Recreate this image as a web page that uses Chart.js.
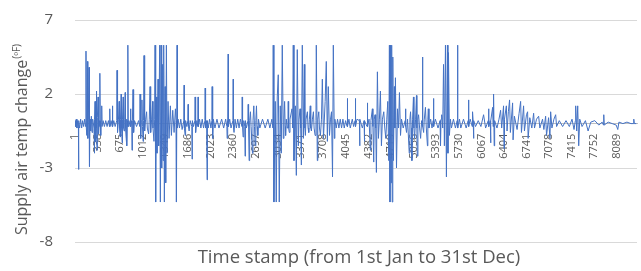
<!DOCTYPE html>
<html>
<head>
<meta charset="utf-8">
<script src="https://cdn.jsdelivr.net/npm/chart.js@4.4.1/dist/chart.umd.min.js"></script>
<style>
  html, body { margin: 0; padding: 0; background: #fff; }
  #wrap { width: 641px; height: 271px; }
</style>
</head>
<body>
<div id="wrap"><canvas id="airChart"></canvas></div>
<script>
// hourly time stamps (peaks, troughs and the flat parts between them)
const stampIdx = [
  1, 10, 20, 30, 40, 52, 55, 58, 70, 85,
  100, 115, 130, 145, 160, 165, 170, 175, 180, 185,
  190, 195, 200, 210, 214, 220, 225, 235, 245, 255,
  265, 285, 290, 295, 300, 305, 310, 315, 320, 325,
  330, 335, 345, 350, 355, 365, 370, 374, 378, 385,
  392, 400, 405, 420, 440, 460, 480, 500, 516, 520,
  524, 540, 556, 560, 564, 580, 600, 624, 628, 632,
  640, 650, 660, 665, 675, 680, 690, 695, 705, 710,
  720, 725, 735, 742, 750, 755, 765, 770, 777, 782,
  788, 792, 796, 805, 826, 830, 835, 848, 852, 858,
  867, 872, 880, 890, 920, 950, 968, 972, 978, 985,
  992, 1000, 1008, 1017, 1024, 1031, 1036, 1045, 1055, 1070,
  1080, 1100, 1110, 1121, 1126, 1135, 1145, 1160, 1165, 1180,
  1190, 1196, 1205, 1215, 1225, 1240, 1250, 1265, 1275, 1285,
  1295, 1305, 1315, 1325, 1335, 1345, 1355, 1365, 1375, 1390,
  1405, 1425, 1440, 1460, 1480, 1500, 1510, 1515, 1525, 1530,
  1540, 1560, 1580, 1600, 1626, 1630, 1634, 1645, 1652, 1670,
  1686, 1690, 1694, 1705, 1720, 1745, 1749, 1753, 1770, 1790,
  1794, 1798, 1805, 1820, 1835, 1839, 1843, 1860, 1880, 1900,
  1920, 1940, 1944, 1950, 1965, 1973, 1978, 1990, 2010, 2030,
  2044, 2048, 2052, 2060, 2066, 2090, 2120, 2150, 2190, 2220,
  2250, 2268, 2272, 2277, 2283, 2287, 2292, 2310, 2330, 2358,
  2362, 2367, 2375, 2390, 2410, 2430, 2450, 2470, 2493, 2497,
  2502, 2510, 2520, 2536, 2540, 2545, 2560, 2582, 2586, 2592,
  2600, 2608, 2620, 2630, 2650, 2658, 2670, 2680, 2690, 2700,
  2710, 2718, 2730, 2740, 2760, 2800, 2840, 2880, 2910, 2940,
  2955, 2960, 2970, 2990, 3005, 3020, 3035, 3050, 3065, 3080,
  3095, 3110, 3120, 3130, 3138, 3145, 3155, 3170, 3180, 3184,
  3190, 3200, 3210, 3240, 3250, 3259, 3270, 3290, 3305, 3319,
  3335, 3345, 3360, 3370, 3380, 3394, 3410, 3424, 3432, 3440,
  3450, 3470, 3480, 3490, 3500, 3513, 3520, 3530, 3545, 3560,
  3570, 3585, 3598, 3603, 3618, 3625, 3640, 3650, 3665, 3680,
  3693, 3710, 3735, 3752, 3768, 3782, 3800, 3815, 3830, 3845,
  3857, 3872, 3880, 3900, 3920, 3940, 3960, 3980, 4000, 4020,
  4040, 4062, 4066, 4071, 4090, 4110, 4140, 4160, 4182, 4186,
  4191, 4210, 4246, 4250, 4255, 4290, 4316, 4320, 4325, 4360,
  4365, 4370, 4390, 4410, 4418, 4440, 4448, 4460, 4468, 4480,
  4490, 4500, 4515, 4530, 4545, 4560, 4575, 4590, 4610, 4625,
  4640, 4655, 4670, 4685, 4694, 4703, 4712, 4720, 4728, 4736,
  4745, 4754, 4768, 4776, 4784, 4800, 4815, 4830, 4844, 4860,
  4875, 4900, 4930, 4934, 4940, 4950, 4965, 4990, 5000, 5010,
  5020, 5030, 5040, 5053, 5060, 5070, 5085, 5098, 5104, 5110,
  5120, 5130, 5145, 5160, 5175, 5184, 5188, 5193, 5205, 5215,
  5232, 5245, 5262, 5268, 5275, 5285, 5310, 5330, 5348, 5352,
  5357, 5380, 5420, 5450, 5457, 5465, 5475, 5490, 5502, 5515,
  5531, 5545, 5560, 5568, 5576, 5590, 5605, 5620, 5650, 5680,
  5706, 5711, 5716, 5740, 5760, 5800, 5840, 5870, 5875, 5880,
  5900, 5930, 5935, 5945, 5950, 5955, 5980, 6020, 6060, 6100,
  6130, 6170, 6174, 6180, 6200, 6204, 6210, 6235, 6242, 6249,
  6258, 6265, 6300, 6330, 6354, 6370, 6398, 6405, 6412, 6440,
  6450, 6470, 6488, 6500, 6533, 6540, 6560, 6600, 6630, 6653,
  6665, 6697, 6710, 6740, 6757, 6765, 6790, 6820, 6847, 6860,
  6890, 6922, 6940, 6980, 7000, 7026, 7040, 7070, 7090, 7101,
  7120, 7150, 7176, 7190, 7230, 7280, 7330, 7380, 7420, 7450,
  7470, 7475, 7490, 7505, 7520, 7535, 7570, 7620, 7660, 7700,
  7760, 7820, 7870, 7890, 7894, 7900, 7960, 8020, 8080, 8103,
  8120, 8180, 8240, 8300, 8340, 8342, 8350, 8380
];

// supply air temp change (oF), same order as stampIdx
const tempChange = [
  0.2, -0.2, 0.3, -0.3, 0.2, -0.2, -3.1, 0.2, -0.3, 0.3,
  -0.3, 0.2, -0.2, 0.3, -0.2, 4.9, -0.3, -0.8, 0.2, 4.2,
  -0.3, -1.0, 0.3, 3.8, -0.3, -2.9, 0.3, -0.5, 0.5, -0.6,
  0.3, -0.3, -2.0, 0.3, 1.5, -0.4, -1.2, 0.4, 2.2, -0.3,
  -1.8, 0.4, 1.8, -0.3, -0.7, 0.2, -0.2, 3.4, 0.2, -0.8,
  0.2, 1.2, -0.2, 0.2, -0.2, 0.2, -0.2, 0.2, -0.2, 1.0,
  -0.2, 0.2, -0.2, 1.2, -0.2, 0.2, -0.2, 0.2, 3.6, -0.3,
  -0.6, 0.3, 1.5, -0.3, -0.9, 0.3, 2.0, -0.3, -1.3, 0.3,
  1.8, -0.3, -0.5, 0.3, 2.1, -0.3, -1.0, 0.3, -1.5, 0.2,
  -0.2, 5.3, -0.2, 0.2, -0.2, 1.0, -0.2, 0.2, -1.8, 0.2,
  2.3, -0.3, -0.6, 0.2, -0.2, 0.2, -0.2, 2.0, -0.2, -1.0,
  0.2, 1.6, -0.2, -1.2, 0.2, 4.6, -0.3, -0.5, 0.3, 0.8,
  -0.3, -0.7, 0.3, 2.5, -0.3, -0.6, 0.3, 1.5, -0.3, -1.2,
  0.3, 5.3, -5.3, 1.8, -2.0, 3.0, -1.5, 5.3, -5.3, 5.3,
  -3.0, 4.0, -2.5, 5.3, -5.3, 2.5, -4.0, 5.3, -2.0, 1.5,
  -1.0, 1.2, -0.8, 0.9, -0.6, 1.0, 0.2, -5.3, 5.3, -0.3,
  0.3, -0.3, 0.3, -0.4, 0.2, 2.6, -0.3, -0.8, 0.2, -0.2,
  0.2, 1.3, -0.2, -0.5, 0.2, -0.2, -2.4, 0.2, -0.2, 0.2,
  1.8, -0.2, -0.6, 0.2, -0.2, 1.8, -0.2, 0.3, -0.3, 0.3,
  -0.3, 0.2, 2.4, -0.3, 0.2, -3.8, 0.2, -0.3, 0.3, -0.3,
  0.2, 2.5, -0.3, -1.0, 0.3, -0.3, 0.3, -0.3, 0.3, -0.3,
  0.3, -0.2, -1.0, 0.2, -0.2, 4.7, -0.2, 0.3, -0.3, 0.2,
  3.0, -0.3, -0.6, 0.3, -0.3, 0.3, -0.3, 0.3, -0.2, 1.8,
  -0.2, -0.9, 0.2, -0.2, -2.2, 0.2, -0.3, 0.2, 1.3, -0.2,
  -2.5, 0.2, 0.8, -0.2, -2.0, 0.2, 1.2, -0.2, -1.5, 0.2,
  1.2, -0.2, -0.8, 0.3, -0.3, 0.3, -0.3, 0.3, -0.3, 0.3,
  -0.3, 5.3, -5.3, 1.5, -5.3, 1.8, 3.3, -5.3, 1.2, -2.0,
  5.3, -1.0, 0.3, 1.5, -0.2, -0.8, 0.3, -0.3, 0.2, 1.5,
  -0.3, -0.6, 0.3, 1.0, -0.3, 5.3, -2.5, 1.2, -3.5, 5.0,
  -1.5, 0.3, 1.0, -0.3, -2.8, 5.3, -1.0, 4.0, -0.3, -0.8,
  0.3, 0.8, -0.3, -0.6, 0.3, 1.2, -0.3, -0.5, 0.3, 0.8,
  -0.3, -0.8, 0.2, 5.3, -2.5, 0.3, 0.8, -0.3, -0.8, 0.3,
  3.0, -1.0, 1.5, 4.2, -1.2, 2.5, -0.8, 0.3, 0.8, -3.6,
  5.3, -1.0, 0.3, -0.3, 0.3, -0.3, 0.3, -0.3, 0.3, -0.3,
  0.2, -0.2, 1.7, -0.2, 0.3, -0.3, 0.3, -0.2, 0.2, 1.7,
  -0.2, 0.3, 0.2, -1.5, 0.3, -0.3, 0.2, -1.2, 0.2, -0.2,
  1.4, -0.2, 0.3, -1.8, 0.2, 1.0, -0.2, -2.6, 0.3, 0.6,
  -0.3, -3.3, 3.5, -1.0, 0.3, 2.2, -1.5, 0.3, 0.8, -0.3,
  -1.0, 0.3, 1.5, -2.5, 5.3, -5.3, 5.3, -4.0, 5.3, -5.3,
  4.5, -2.5, 2.5, -0.3, 3.1, -3.0, 1.0, -0.3, 2.1, -0.8,
  0.3, -0.3, 0.2, 1.0, -0.2, -0.6, 0.3, -2.0, 0.3, 0.8,
  -0.3, -2.5, 0.3, 1.8, -0.3, -1.0, 0.3, 1.9, -0.3, -2.2,
  0.3, 0.6, -0.3, -1.0, 0.2, -0.2, 4.5, -0.2, -0.6, 0.3,
  1.1, -0.3, -1.5, 0.3, 1.0, -0.3, 0.3, -0.3, 0.2, 1.7,
  -0.2, 0.3, -0.3, 0.2, -1.5, 0.3, 0.6, -0.3, 4.0, -1.5,
  5.3, -3.6, 5.3, -2.0, 4.8, -0.8, 0.3, -0.3, 0.3, -0.3,
  0.2, 5.3, -0.3, 0.3, -0.3, 0.3, -0.3, 0.2, 1.6, -0.2,
  0.3, -0.2, 0.8, 0.1, -1.0, 0.2, -0.2, 0.2, -0.2, 0.6,
  -0.3, 0.2, 1.0, -0.2, 0.2, -1.3, 0.2, 1.1, -0.2, 2.0,
  -1.5, 0.2, -0.3, 0.3, 0.9, -0.3, 1.2, -1.7, 0.3, 1.2,
  -0.5, 0.8, 1.6, -0.6, 1.4, -1.1, 0.5, -0.4, 0.7, 1.5,
  -0.6, 1.2, -0.5, 0.6, 0.8, -1.0, 0.4, -0.3, 0.7, -0.3,
  0.3, 0.5, -0.3, 0.3, -0.4, 0.5, -0.8, 0.4, -1.0, 0.8,
  -0.3, 0.3, 0.6, -0.2, 0.2, -0.2, 0.2, -0.2, 0.3, -0.4,
  0.2, 1.2, -0.5, 1.2, -1.5, 0.3, -0.2, 0.2, -0.5, 0.1,
  0.2, -0.1, 0.1, -0.1, 0.6, -0.1, 0.1, 0.0, -0.1, -0.4,
  0.1, 0.0, 0.1, 0.0, 0.0, 0.3, 0.0, 0.0
];

const xTicks = [1, 338, 675, 1012, 1349, 1686, 2023, 2360, 2697, 3034, 3371, 3708, 4045,
                4382, 4719, 5056, 5393, 5730, 6067, 6404, 6741, 7078, 7415, 7752, 8089];
const yTicks = [-8, -3, 2, 7];

const textColor = '#595959';
const fontFamily = '"Open Sans", "Liberation Sans", sans-serif';

// axis titles: y title has the small raised unit
const axisTitles = {
    id: 'axisTitles',
    afterDraw(chart) {
        const ctx = chart.ctx;
        const main = 'Supply air temp change';
        const unit = '(ᵒF)';
        ctx.save();
        ctx.fillStyle = textColor;

        ctx.font = '18.5px ' + fontFamily;
        ctx.textAlign = 'center';
        ctx.textBaseline = 'middle';
        ctx.fillText('Time stamp (from 1st Jan to 31st Dec)', 359, 258);

        ctx.font = '16px ' + fontFamily;
        const w1 = ctx.measureText(main).width;
        ctx.font = '10px ' + fontFamily;
        const w2 = ctx.measureText(unit).width;
        ctx.translate(22, 140);
        ctx.rotate(-Math.PI / 2);
        ctx.textAlign = 'left';
        const start = -(w1 + w2) / 2;
        ctx.font = '16px ' + fontFamily;
        ctx.fillText(main, start, 0);
        ctx.font = '10px ' + fontFamily;
        ctx.fillText(unit, start + w1 + 1, -5);
        ctx.restore();
    }
};

new Chart(document.getElementById('airChart'), {
    type: 'line',
    data: {
        datasets: [{
            data: stampIdx.map((x, i) => ({ x: x, y: tempChange[i] })),
            borderColor: '#4472c4',
            borderWidth: 1,
            pointRadius: 0,
            tension: 0
        }]
    },
    options: {
        responsive: true,
        maintainAspectRatio: false,
        animation: false,
        layout: {
            padding: { left: 40, right: 4, top: 20, bottom: 29 }
        },
        plugins: {
            legend: { display: false },
            tooltip: { enabled: false }
        },
        scales: {
            x: {
                type: 'linear',
                position: { y: 0 },
                min: 1,
                max: 8390,
                afterBuildTicks: (scale) => {
                    scale.ticks = xTicks.map(v => ({ value: v }));
                },
                afterFit: (scale) => {
                    // axis sits on the zero line, so it should not take room
                    scale.height = 0;
                    scale.paddingTop = 0;
                    scale.paddingBottom = 0;
                },
                ticks: {
                    color: textColor,
                    font: { family: fontFamily, size: 11 },
                    minRotation: 90,
                    maxRotation: 90,
                    autoSkip: false,
                    padding: 2,
                    callback: (v) => String(v)
                },
                grid: { display: false },
                border: { color: '#bfbfbf' }
            },
            y: {
                min: -8,
                max: 7,
                afterBuildTicks: (scale) => {
                    scale.ticks = yTicks.map(v => ({ value: v }));
                },
                afterFit: (scale) => {
                    scale.width = 35;
                    scale.paddingTop = 0;
                    scale.paddingBottom = 0;
                },
                ticks: {
                    color: textColor,
                    font: { family: fontFamily, size: 15 },
                    padding: 22
                },
                grid: { color: '#d9d9d9', drawTicks: false },
                border: { display: false }
            }
        }
    },
    plugins: [axisTitles]
});
</script>
</body>
</html>
